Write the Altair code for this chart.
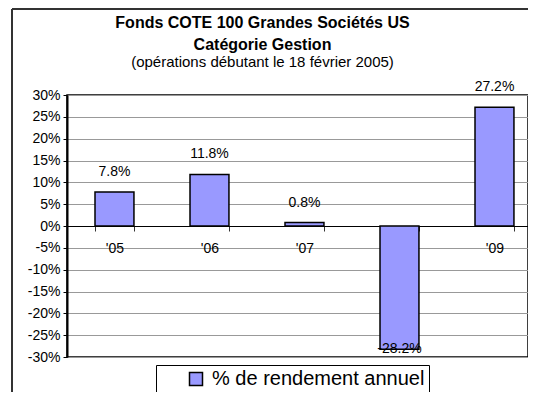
import altair as alt
import pandas as pd

years = ["'05", "'06", "'07", "'08", "'09"]
returns = [7.8, 11.8, 0.8, -28.2, 27.2]
series_name = "% de rendement annuel"
y_ticks = list(range(-30, 31, 5))

df = pd.DataFrame({
    "year": years,
    "ret": returns,
    "series": [series_name] * len(years),
    "label": [f"{v:.1f}%" for v in returns],
})

FONT = "Liberation Sans"

x_enc = alt.X("year:N", sort=years,
              scale=alt.Scale(paddingInner=0.59, paddingOuter=0.2213, align=0.666),
              axis=alt.Axis(title=None, orient="bottom", offset=-131, labelAngle=0,
                            domainColor="black", domainWidth=1, tickBand="extent",
                            tickExtra=False,
                            tickSize=5, tickColor="#333333", labelPadding=10,
                            labelFontSize=14, labelColor="black", grid=False,
                            labelOverlap=False))
y_enc = alt.Y("ret:Q", scale=alt.Scale(domain=[-30, 30], nice=False),
              axis=alt.Axis(title=None, values=y_ticks, labelExpr="datum.value + '%'",
                            grid=True, gridColor="#999999", gridWidth=1,
                            domainColor="black", domainWidth=2, tickColor="black",
                            tickSize=4, labelPadding=3, labelFontSize=14,
                            labelColor="black", labelOverlap=False))

base = alt.Chart(df)

bars = base.mark_bar(stroke="black", strokeWidth=1.5).encode(
    x=x_enc,
    y=y_enc,
    color=alt.Color("series:N", scale=alt.Scale(range=["#9999FF"]),
                    legend=alt.Legend(title=None, orient="none", legendX=89, legendY=270,
                                      strokeColor="black", fillColor="white", padding=4,
                                      symbolType="square", symbolSize=169, symbolOffset=26,
                                      symbolStrokeColor="black", symbolStrokeWidth=1.5,
                                      labelFontSize=20, labelFont=FONT, labelColor="black",
                                      labelOffset=6, labelLimit=400)),
)

pos_labels = base.transform_filter("datum.ret >= 0").mark_text(
    dy=-20, fontSize=14, font=FONT, color="black", baseline="middle").encode(
    x=x_enc, y=y_enc, text="label:N")
neg_labels = base.transform_filter("datum.ret < 0").mark_text(
    dy=0, fontSize=14, font=FONT, color="black", baseline="middle").encode(
    x=x_enc, y=y_enc, text="label:N")

one = pd.DataFrame({"a": [0]})
left_edge = alt.Chart(one).mark_rule(stroke="#333333", strokeWidth=2).encode(
    x=alt.value(-55), y=alt.value(-86), y2=alt.value(305))
top_edge = alt.Chart(one).mark_rule(stroke="#333333", strokeWidth=2).encode(
    x=alt.value(-55), x2=alt.value(461), y=alt.value(-86))

chart = alt.layer(left_edge, top_edge, bars, pos_labels, neg_labels).properties(
    width=461, height=262,
    autosize=alt.AutoSizeParams(type="none"),
    padding={"left": 59, "top": 87, "right": 0, "bottom": 35},
    title=alt.TitleParams(
        text=["Fonds COTE 100 Grandes Sociétés US", "Catégorie Gestion"],
        subtitle="(opérations débutant le 18 février 2005)",
        font=FONT, fontSize=16, fontWeight="bold", color="black", lineHeight=22,
        subtitleFont=FONT, subtitleFontSize=15, subtitleColor="black",
        subtitlePadding=2, anchor="middle", dx=-35, offset=-62),
).configure(font=FONT).configure_view(stroke="black", strokeWidth=1.5)

chart.save("out.html", embed_options={"renderer": "svg", "actions": False})
